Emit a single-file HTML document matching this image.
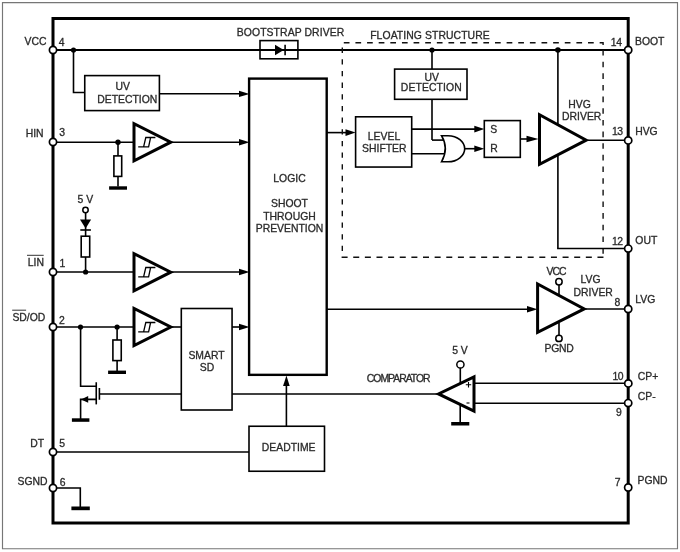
<!DOCTYPE html>
<html><head><meta charset="utf-8"><style>
html,body{margin:0;padding:0;background:#fff;}
svg{display:block;will-change:transform;filter:blur(0.3px);}
text{font-family:"Liberation Sans",sans-serif;font-size:10.4px;fill:#2a2a2a;stroke:#2a2a2a;stroke-width:0.3px;}
</style></head><body>
<svg width="680" height="552" viewBox="0 0 680 552">
<rect x="0" y="0" width="680" height="552" fill="#fff"/>
<path d="M2.5,2.6 H677.5 V548.7 H2.5 Z" fill="none" stroke="#767676" stroke-width="1.15"/>
<g fill="none" stroke="#000" stroke-linecap="butt">
<!-- main thick box -->
<rect x="53" y="18.5" width="575.2" height="504.5" stroke-width="3"/>
<!-- VCC/BOOT line -->
<line x1="53" y1="50" x2="628" y2="50" stroke-width="2"/>
<polyline points="73.5,50 73.5,92.5 84.75,92.5" stroke-width="1.6"/>
<rect x="84.75" y="75.6" width="74.65" height="35" fill="#fff" stroke-width="1.6"/>
<line x1="159.4" y1="93.8" x2="240" y2="93.8" stroke-width="1.6"/>
<!-- HIN -->
<line x1="53" y1="142.3" x2="134" y2="142.3" stroke-width="1.6"/>
<line x1="118" y1="142" x2="118" y2="186.5" stroke-width="1.6"/>
<rect x="113.9" y="155.9" width="7.8" height="20.5" fill="#fff" stroke-width="1.6"/>
<polygon points="134,123.65 134,160.75 170.75,142.2" fill="#fff" stroke-width="3"/>
<line x1="170" y1="142.3" x2="240" y2="142.3" stroke-width="1.6"/>
<!-- LIN -->
<line x1="85.6" y1="212.5" x2="85.6" y2="272" stroke-width="1.6"/>
<line x1="80.3" y1="230" x2="90.9" y2="230" stroke-width="1.6"/>
<rect x="81.2" y="236.2" width="8.5" height="20.8" fill="#fff" stroke-width="1.6"/>
<line x1="53" y1="272" x2="134" y2="272" stroke-width="1.6"/>
<polygon points="134,253.65 134,290.75 170.75,272.2" fill="#fff" stroke-width="3"/>
<line x1="171" y1="272" x2="240" y2="272" stroke-width="1.6"/>
<!-- SD -->
<line x1="53" y1="327" x2="134" y2="327" stroke-width="1.6"/>
<line x1="117.1" y1="327" x2="117.1" y2="371" stroke-width="1.6"/>
<rect x="112.9" y="340" width="8.35" height="20.6" fill="#fff" stroke-width="1.6"/>
<polygon points="134,308.45 134,345.55 170.75,327" fill="#fff" stroke-width="3"/>
<line x1="171" y1="327" x2="181.3" y2="327" stroke-width="1.6"/>
<line x1="232" y1="327" x2="240" y2="327" stroke-width="1.6"/>
<!-- MOSFET -->
<polyline points="80.6,327 80.6,386.25 96.25,386.25" stroke-width="1.6"/>
<line x1="96.25" y1="382.25" x2="96.25" y2="404.4" stroke-width="1.6"/>
<line x1="99.4" y1="388" x2="99.4" y2="399.75" stroke-width="1.6"/>
<line x1="99.4" y1="394" x2="438" y2="394" stroke-width="1.6"/>
<polyline points="96.25,399.4 80.6,399.4 80.6,419" stroke-width="1.6"/>
<rect x="181.3" y="308.5" width="50.76" height="101.5" fill="#fff" stroke-width="1.6"/>
<!-- logic box -->
<rect x="249.1" y="78.6" width="77.6" height="296.25" fill="#fff" stroke-width="2.4"/>
<line x1="326.7" y1="132.6" x2="347" y2="132.6" stroke-width="1.6"/>
<line x1="326.7" y1="309.2" x2="529" y2="309.2" stroke-width="1.6"/>
<!-- deadtime -->
<line x1="53" y1="452" x2="249" y2="452" stroke-width="1.6"/>
<rect x="249" y="426.25" width="75.5" height="45" fill="#fff" stroke-width="1.6"/>
<line x1="286.4" y1="426.25" x2="286.4" y2="384" stroke-width="1.6"/>
<!-- SGND -->
<polyline points="53,488 80.3,488 80.3,507" stroke-width="1.6"/>
<!-- bootstrap diode box -->
<rect x="260" y="40.6" width="37.9" height="18.2" fill="none" stroke-width="1.6"/>
<line x1="285.1" y1="44.7" x2="285.1" y2="55.3" stroke-width="1.6"/>
<!-- floating structure dashed -->
<path d="M343.80,42.8H349.50 M355.43,42.8H361.13 M367.06,42.8H372.76 M378.69,42.8H384.39 M390.32,42.8H396.02 M401.95,42.8H407.65 M413.58,42.8H419.28 M425.21,42.8H430.91 M436.84,42.8H442.54 M448.47,42.8H454.17 M460.10,42.8H465.80 M471.73,42.8H477.43 M483.36,42.8H489.06 M494.99,42.8H500.69 M506.62,42.8H512.32 M518.25,42.8H523.95 M529.88,42.8H535.58 M541.51,42.8H547.21 M553.14,42.8H558.84 M564.77,42.8H570.47 M576.40,42.8H582.10 M588.03,42.8H593.73 M599.66,42.8H603.70 M603.1,42.2V45 M603.1,50.00V55.60 M603.1,61.65V67.25 M603.1,73.30V78.90 M603.1,84.95V90.55 M603.1,96.60V102.20 M603.1,108.25V113.85 M603.1,119.90V125.50 M603.1,131.55V137.15 M603.1,143.20V148.80 M603.1,154.85V160.45 M603.1,166.50V172.10 M603.1,178.15V183.75 M603.1,189.80V195.40 M603.1,201.45V207.05 M603.1,213.10V218.70 M603.1,224.75V230.35 M603.1,236.40V242.00 M603.1,248.05V253.65 M342.3,47.60V52.90 M342.3,59.26V64.56 M342.3,70.92V76.22 M342.3,82.58V87.88 M342.3,94.24V99.54 M342.3,105.90V111.20 M342.3,117.56V122.86 M342.3,129.22V134.52 M342.3,140.88V146.18 M342.3,152.54V157.84 M342.3,164.20V169.50 M342.3,175.86V181.16 M342.3,187.52V192.82 M342.3,199.18V204.48 M342.3,210.84V216.14 M342.3,222.50V227.80 M342.3,234.16V239.46 M342.3,245.82V251.12 M341.60,257.3H347.60 M353.23,257.3H359.23 M364.86,257.3H370.86 M376.49,257.3H382.49 M388.12,257.3H394.12 M399.75,257.3H405.75 M411.38,257.3H417.38 M423.01,257.3H429.01 M434.64,257.3H440.64 M446.27,257.3H452.27 M457.90,257.3H463.90 M469.53,257.3H475.53 M481.16,257.3H487.16 M492.79,257.3H498.79 M504.42,257.3H510.42 M516.05,257.3H522.05 M527.68,257.3H533.68 M539.31,257.3H545.31 M550.94,257.3H556.94 M562.57,257.3H568.57 M574.20,257.3H580.20 M585.83,257.3H591.83 M597.46,257.3H603.46" stroke-width="1.4" stroke="#111"/>
<line x1="432" y1="50" x2="432" y2="140.1" stroke-width="1.6"/>
<line x1="432" y1="140.1" x2="445" y2="140.1" stroke-width="1.6"/>
<rect x="394.6" y="69.1" width="72.4" height="30.2" fill="#fff" stroke-width="1.6"/>
<rect x="355.6" y="116.8" width="56.1" height="50.25" fill="#fff" stroke-width="1.6"/>
<line x1="411.7" y1="129.1" x2="476" y2="129.1" stroke-width="1.6"/>
<line x1="411.7" y1="153.8" x2="445" y2="153.8" stroke-width="1.6"/>
<path d="M441.5,135.7 H448 C457.5,135.7 464.7,142 464.7,148.7 C464.7,155.5 457.5,161.8 448,161.8 H441.5 C446.5,153 446.5,144 441.5,135.7 Z" fill="#fff" stroke-width="1.6"/>
<line x1="464.7" y1="148.7" x2="476" y2="148.7" stroke-width="1.6"/>
<rect x="484.3" y="120.6" width="36" height="36.75" fill="#fff" stroke-width="1.6"/>
<line x1="520.3" y1="139" x2="531" y2="139" stroke-width="1.6"/>
<line x1="557.9" y1="50" x2="557.9" y2="248.5" stroke-width="1.6"/>
<line x1="557.1" y1="248.5" x2="628" y2="248.5" stroke-width="1.6"/>
<polygon points="539.5,114.8 539.5,164.3 586.2,140.1" fill="#fff" stroke-width="3"/>
<line x1="587.7" y1="140.3" x2="628" y2="140.3" stroke-width="1.6"/>
<!-- LVG driver -->
<line x1="559" y1="283.8" x2="559" y2="295" stroke-width="1.6"/>
<line x1="559" y1="323" x2="559" y2="335.8" stroke-width="1.6"/>
<polygon points="537.6,284 537.6,332.4 584.2,308.9" fill="#fff" stroke-width="3"/>
<line x1="585.7" y1="309" x2="628" y2="309" stroke-width="1.6"/>
<!-- comparator -->
<line x1="460.3" y1="367" x2="460.3" y2="383" stroke-width="1.6"/>
<line x1="460.2" y1="405" x2="460.2" y2="422" stroke-width="1.6"/>
<line x1="474" y1="383.3" x2="628" y2="383.3" stroke-width="1.6"/>
<line x1="474" y1="403.3" x2="628" y2="403.3" stroke-width="1.6"/>
<polygon points="474,377 474,411.2 438.5,393.9" fill="#fff" stroke-width="3"/>
<!-- hysteresis symbols -->
<g stroke-width="1.3">
<path d="M138.2,146.8 H148.6 L150.6,137.5 M143.6,146.8 L145.8,137.5 H155.4"/>
<path d="M138.2,276.8 H148.6 L150.6,267.5 M143.6,276.8 L145.8,267.5 H155.4"/>
<path d="M138.2,331.8 H148.6 L150.6,322.5 M143.6,331.8 L145.8,322.5 H155.4"/>
</g>
<!-- + - -->
<path d="M465.8,384.8 H471.2 M468.5,382.1 V387.5" stroke-width="1.1"/>
<path d="M466.5,403 H469.5" stroke-width="1.1"/>
</g>
<!-- filled parts -->
<g fill="#000" stroke="none">
<circle cx="73.5" cy="50" r="2.6"/>
<circle cx="118" cy="142.3" r="2.7"/>
<circle cx="85.6" cy="272" r="2.6"/>
<circle cx="80.5" cy="327" r="2.6"/>
<circle cx="117.1" cy="327" r="2.6"/>
<circle cx="432" cy="50" r="2.6"/>
<circle cx="557.9" cy="50" r="2.8"/>
<!-- ground bars -->
<rect x="109.1" y="186.3" width="17.9" height="3.4"/>
<rect x="108.1" y="370.6" width="17.9" height="3.4"/>
<rect x="71.9" y="418.3" width="17.5" height="3.5"/>
<rect x="71.4" y="506.5" width="18.4" height="3.7"/>
<rect x="451.2" y="422" width="18.1" height="3.5"/>
<!-- diodes -->
<polygon points="275,44.7 275,55.3 283.8,50"/>
<polygon points="80,219.5 91.1,219.5 85.6,228.5"/>
<!-- arrowheads -->
<polygon points="249.5,93.9 239,90.8 239,97"/>
<polygon points="249.5,142.3 239,139.1 239,145.5"/>
<polygon points="249.5,272 239,268.7 239,275.3"/>
<polygon points="249.5,327 239,323.7 239,330.3"/>
<polygon points="286.4,375.5 283.1,386 289.7,386"/>
<polygon points="355.6,132.6 345.5,129.3 345.5,135.9"/>
<polygon points="484.3,129.1 474.3,125.8 474.3,132.4"/>
<polygon points="484.3,148.7 474.3,145.4 474.3,152"/>
<polygon points="538.5,139 526.5,135.8 526.5,142.2"/>
<polygon points="537.5,309.3 527,306 527,312.6"/>
<polygon points="81,399.4 88.2,396 88.2,402.8"/>
</g>
<!-- small circles -->
<g fill="#fff" stroke="#000" stroke-width="1.5">
<circle cx="85.5" cy="210" r="2.7"/>
<circle cx="558.95" cy="281.7" r="3.2"/>
<circle cx="558.95" cy="338.4" r="3.2"/>
<circle cx="460.4" cy="364.5" r="3.6"/>
</g>
<!-- pin circles -->
<g fill="#fff" stroke="#000" stroke-width="1.7">
<circle cx="53" cy="50" r="3.6"/>
<circle cx="53" cy="142" r="3.6"/>
<circle cx="53" cy="272" r="3.6"/>
<circle cx="53" cy="327" r="3.6"/>
<circle cx="53" cy="452" r="3.6"/>
<circle cx="53" cy="488" r="3.6"/>
<circle cx="628.2" cy="50" r="3.6"/>
<circle cx="628.2" cy="140.4" r="3.6"/>
<circle cx="628.2" cy="248.6" r="3.6"/>
<circle cx="628.2" cy="309" r="3.6"/>
<circle cx="628.3" cy="383.4" r="3.6"/>
<circle cx="628.2" cy="403.1" r="3.6"/>
<circle cx="628.2" cy="487.5" r="3.6"/>
</g>
<!-- text -->
<g>
<text x="236.8" y="35.9" letter-spacing="0.09">BOOTSTRAP DRIVER</text>
<text x="370.2" y="39.1" letter-spacing="0.08">FLOATING STRUCTURE</text>
<text x="122.8" y="90" text-anchor="middle">UV</text>
<text x="127.3" y="102.75" text-anchor="middle">DETECTION</text>
<text x="431.7" y="80.9" text-anchor="middle">UV</text>
<text x="431.3" y="91.4" text-anchor="middle" letter-spacing="0.1">DETECTION</text>
<text x="289.5" y="181.6" text-anchor="middle">LOGIC</text>
<text x="289.5" y="207.4" text-anchor="middle">SHOOT</text>
<text x="289.5" y="219.7" text-anchor="middle">THROUGH</text>
<text x="289.5" y="232.1" text-anchor="middle">PREVENTION</text>
<text x="384" y="139.7" text-anchor="middle">LEVEL</text>
<text x="384.3" y="152" text-anchor="middle">SHIFTER</text>
<text x="206.5" y="358.5" text-anchor="middle">SMART</text>
<text x="207" y="370.7" text-anchor="middle">SD</text>
<text x="288.7" y="451.3" text-anchor="middle">DEADTIME</text>
<text x="366.8" y="381.5" letter-spacing="-1">COMPARATOR</text>
<text x="490.2" y="133.1">S</text>
<text x="490.2" y="152.1">R</text>
<text x="579.5" y="107.6" text-anchor="middle">HVG</text>
<text x="581.7" y="120" text-anchor="middle">DRIVER</text>
<text x="590.5" y="282.7" text-anchor="middle">LVG</text>
<text x="593.2" y="295.5" text-anchor="middle">DRIVER</text>
<text x="556" y="274.5" text-anchor="middle" letter-spacing="-0.9">VCC</text>
<text x="559" y="351.6" text-anchor="middle" letter-spacing="-0.3">PGND</text>
<text x="85.4" y="202.9" text-anchor="middle">5 V</text>
<text x="460" y="354" text-anchor="middle">5 V</text>
<!-- left pins -->
<text x="46.5" y="44.5" text-anchor="end">VCC</text>
<text x="43.6" y="136.9" text-anchor="end">HIN</text>
<text x="44" y="265.7" text-anchor="end">LIN</text>
<text x="45.3" y="320.9" text-anchor="end">SD/OD</text>
<text x="44" y="446.6" text-anchor="end">DT</text>
<text x="47.5" y="484.7" text-anchor="end">SGND</text>
<text x="58.8" y="46.2">4</text>
<text x="59.2" y="135.6">3</text>
<text x="59.5" y="266.7">1</text>
<text x="59" y="323.8">2</text>
<text x="59.3" y="446.6">5</text>
<text x="59.8" y="485.7">6</text>
<!-- right pins -->
<text x="635" y="45">BOOT</text>
<text x="635.2" y="135.1">HVG</text>
<text x="635.3" y="244.3">OUT</text>
<text x="635.3" y="303.3">LVG</text>
<text x="637.8" y="379.75">CP+</text>
<text x="637.8" y="399.6">CP-</text>
<text x="637.5" y="484.2">PGND</text>
<text x="621.8" y="45.6" text-anchor="end" letter-spacing="-0.3">14</text>
<text x="622.6" y="135.1" text-anchor="end" letter-spacing="-0.5">13</text>
<text x="622.6" y="244.8" text-anchor="end" letter-spacing="-0.5">12</text>
<text x="620.4" y="305.7" text-anchor="end">8</text>
<text x="622.9" y="379.8" text-anchor="end" letter-spacing="-0.6">10</text>
<text x="621.9" y="415.6" text-anchor="end">9</text>
<text x="620.6" y="486.3" text-anchor="end">7</text>
</g>
<!-- overlines -->
<line x1="27" y1="255.3" x2="43.7" y2="255.3" stroke="#333" stroke-width="1"/>
<line x1="12.2" y1="310.2" x2="26.1" y2="310.2" stroke="#333" stroke-width="1"/>
</svg>
</body></html>
